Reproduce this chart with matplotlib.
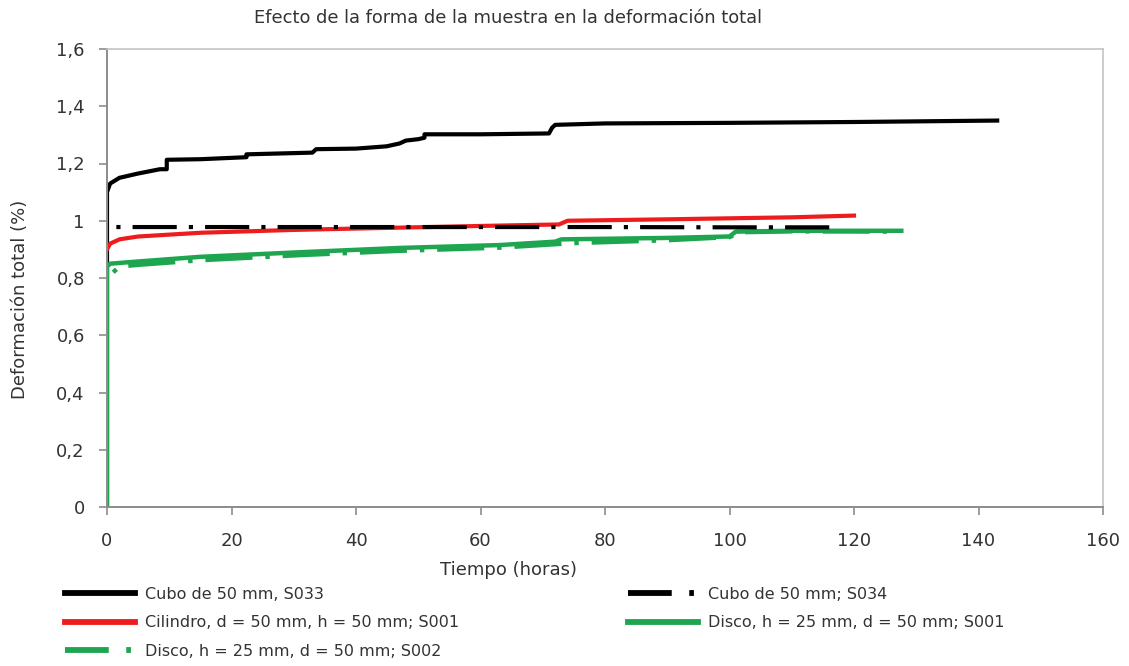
import matplotlib
matplotlib.use("Agg")
import matplotlib.pyplot as plt
from matplotlib.ticker import FuncFormatter
from matplotlib.lines import Line2D

plt.rcParams['font.family'] = ['DejaVu Sans']

# ---- data ----
t_s033 = [0, 0, 0.5, 2, 5, 8.5, 9.6, 9.6, 15, 22.4, 22.4, 33, 33.6, 40, 44.9, 47, 48, 50, 51, 51, 60, 71, 71.5, 72, 80, 100, 120, 143]
v_s033 = [0, 1.10, 1.13, 1.15, 1.165, 1.18, 1.18, 1.213, 1.215, 1.222, 1.232, 1.238, 1.25, 1.252, 1.26, 1.27, 1.28, 1.285, 1.29, 1.302, 1.302, 1.305, 1.325, 1.335, 1.34, 1.342, 1.345, 1.35]

t_s034 = [1.5, 20, 40, 60, 80, 100, 117]
v_s034 = [0.978, 0.978, 0.978, 0.978, 0.978, 0.977, 0.977]

t_cil = [0, 0.5, 2, 5, 15, 30, 47, 65, 72.6, 74, 90, 110, 120]
v_cil = [0.90, 0.92, 0.935, 0.945, 0.958, 0.968, 0.976, 0.984, 0.987, 1.0, 1.005, 1.012, 1.018]

t_d001 = [0, 0, 0.5, 4, 15, 31, 47, 63, 72, 73, 90, 100, 101, 110, 127.6]
v_d001 = [0, 0.84, 0.85, 0.856, 0.874, 0.89, 0.905, 0.915, 0.927, 0.935, 0.94, 0.945, 0.962, 0.965, 0.965]

t_d002 = [1, 2, 5, 15, 31, 47, 63, 75, 90, 100, 102, 110, 127]
v_d002 = [0.82, 0.84, 0.846, 0.862, 0.88, 0.895, 0.906, 0.922, 0.932, 0.943, 0.96, 0.963, 0.962]

xticks = [0, 20, 40, 60, 80, 100, 120, 140, 160]
yticks = [0, 0.2, 0.4, 0.6, 0.8, 1.0, 1.2, 1.4, 1.6]

labels = ["Cubo de 50 mm, S033", "Cubo de 50 mm; S034", "Cilindro, d = 50 mm, h = 50 mm; S001",
          "Disco, h = 25 mm, d = 50 mm; S001", "Disco, h = 25 mm, d = 50 mm; S002"]

BLACK = "#000000"
RED = "#ee1c1c"
GREEN = "#1ea550"
TXT = "#333333"

fig = plt.figure(figsize=(11.29, 6.66), dpi=100)
ax = fig.add_axes([107 / 1129, 1 - 507 / 666, 996 / 1129, 458 / 666])

ax.plot(t_s033, v_s033, color=BLACK, lw=3.0)
ax.plot(t_cil, v_cil, color=RED, lw=3.0)
ax.plot(t_d001, v_d001, color=GREEN, lw=3.2)
ax.plot(t_d002, v_d002, color=GREEN, lw=3.2, dashes=(1.0, 2.9, 10.6, 2.9))
ax.plot(t_s034, v_s034, color=BLACK, lw=3.0, dashes=(1.0, 2.9, 10.6, 2.9))

ax.set_xlim(0, 160)
ax.set_ylim(0, 1.6)
ax.set_xticks(xticks)
ax.set_yticks(yticks)

def fmt(v, pos):
    s = ('%.1f' % v).rstrip('0').rstrip('.')
    return s.replace('.', ',')

ax.yaxis.set_major_formatter(FuncFormatter(fmt))
ax.xaxis.set_major_formatter(FuncFormatter(lambda v, p: '%d' % v))

for s in ['top', 'right']:
    ax.spines[s].set_color('#c4c4c4')
    ax.spines[s].set_linewidth(1.2)
for s in ['left', 'bottom']:
    ax.spines[s].set_color('#8c8c8c')
    ax.spines[s].set_linewidth(1.4)
ax.tick_params(axis='both', direction='out', length=6, width=1.2, color='#8c8c8c',
               labelsize=13, labelcolor=TXT)
ax.tick_params(axis='y', pad=10)
ax.tick_params(axis='x', pad=12)

fig.text(508 / 1129, 1 - 18 / 666, "Efecto de la forma de la muestra en la deformación total",
         ha='center', va='center', fontsize=12.9, color=TXT)
fig.text(508 / 1129, 1 - 570 / 666, "Tiempo (horas)", ha='center', va='center', fontsize=13, color=TXT)
fig.text(20 / 1129, 1 - 299 / 666, "Deformación total (%)", ha='center', va='center', rotation=90,
         fontsize=13, color=TXT)

h_s033 = Line2D([], [], color=BLACK, lw=4.2)
h_cil = Line2D([], [], color=RED, lw=4.2)
h_d002 = Line2D([], [], color=GREEN, lw=4.2, dashes=(7.5, 3.0, 0.8, 3.0))
h_s034 = Line2D([], [], color=BLACK, lw=4.2, dashes=(7.5, 3.0, 0.8, 3.0))
h_d001 = Line2D([], [], color=GREEN, lw=4.2)

leg_kw = dict(loc='upper left', frameon=False, fontsize=11.5, handlelength=4.4,
              handletextpad=0.6, labelspacing=0.84, borderaxespad=0, borderpad=0)
leg1 = fig.legend([h_s033, h_cil, h_d002], [labels[0], labels[2], labels[4]],
                  bbox_to_anchor=(65 / 1129, 1 - 587 / 666), **leg_kw)
for t in leg1.get_texts():
    t.set_color(TXT)
leg2 = fig.legend([h_s034, h_d001], [labels[1], labels[3]],
                  bbox_to_anchor=(628 / 1129, 1 - 587 / 666), **leg_kw)
for t in leg2.get_texts():
    t.set_color(TXT)

fig.savefig("out.png", dpi=100)
